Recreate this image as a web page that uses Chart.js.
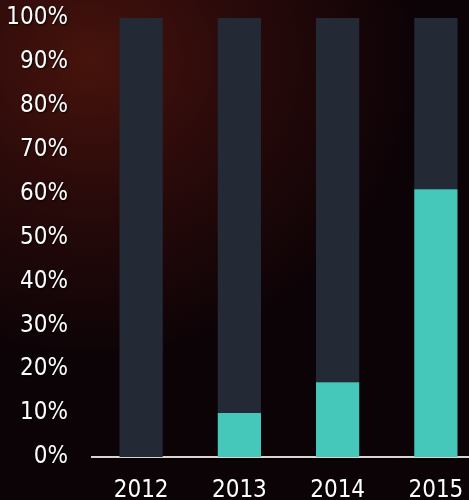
<!DOCTYPE html>
<html>
<head>
<meta charset="utf-8">
<script src="https://cdn.jsdelivr.net/npm/chart.js@4"></script>
<style>
  html, body { margin: 0; padding: 0; overflow: hidden; }
  body {
    width: 469px; height: 500px;
    background: radial-gradient(ellipse 330px 300px at 90px 60px, #47130c 0%, #2a0a0a 45%, #0c0306 100%);
  }
  canvas { display: block; }
</style>
</head>
<body>
<canvas id="graf" width="485" height="500"></canvas>
<script>
const godine = ["2012", "2013", "2014", "2015"];
const udio = [0, 10, 17, 61];
const ostatak = [100, 90, 83, 39];
const yTicks = [0, 10, 20, 30, 40, 50, 60, 70, 80, 90, 100];

const FONT = "'DejaVu Sans Condensed', 'Liberation Sans Narrow', sans-serif";

// sjena za tekst osi
const sjena = {
  id: "sjena",
  beforeDraw(chart) {
    const ctx = chart.ctx;
    ctx.save();
    ctx.shadowColor = "rgba(0,0,0,0.8)";
    ctx.shadowOffsetX = 1;
    ctx.shadowOffsetY = 1;
    ctx.shadowBlur = 2;
  },
  beforeDatasetsDraw(chart) {
    chart.ctx.restore();
  }
};

new Chart(document.getElementById("graf"), {
  type: "bar",
  data: {
    labels: godine,
    datasets: [
      { data: udio, backgroundColor: "#45c8b9", borderWidth: 0 },
      { data: ostatak, backgroundColor: "#232a35", borderWidth: 0 }
    ]
  },
  options: {
    responsive: false,
    animation: false,
    devicePixelRatio: 1,
    layout: { padding: 0 },
    datasets: { bar: { categoryPercentage: 1, barPercentage: 0.44 } },
    plugins: { legend: { display: false }, tooltip: { enabled: false } },
    scales: {
      x: {
        stacked: true,
        afterFit(scale) { scale.height = 43; },
        grid: { display: false },
        border: { display: true, color: "#d8d4d0", width: 2 },
        ticks: { color: "#ffffff", font: { family: FONT, size: 24 }, padding: 11, maxRotation: 0, autoSkip: false }
      },
      y: {
        stacked: true,
        min: 0, max: 100,
        afterBuildTicks(scale) { scale.ticks = yTicks.map(v => ({ value: v })); },
        afterFit(scale) {
          scale.width = 92;
          scale.paddingTop = 18;
          scale.paddingBottom = 0;
        },
        grid: { display: false },
        border: { display: false },
        ticks: {
          color: "#ffffff",
          font: { family: FONT, size: 24 },
          padding: 16,
          autoSkip: false,
          callback: v => v + "%"
        }
      }
    }
  },
  plugins: [sjena]
});
</script>
</body>
</html>
